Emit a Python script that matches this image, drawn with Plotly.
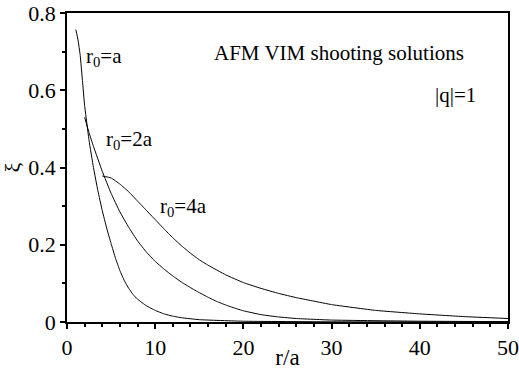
import plotly.graph_objects as go

# r0 = a
x_a = [1.0, 1.25, 1.5, 1.75, 2.0, 2.5, 3.0, 3.5, 4.0, 4.5, 5.0, 5.5, 6.0, 6.5, 7.0, 7.5, 8.0, 9.0, 10.0, 11.0, 12.0, 13.0, 15.0, 20.0, 30.0, 50.0]
y_a = [0.757, 0.73, 0.69, 0.625, 0.56, 0.47, 0.40, 0.34, 0.288, 0.243, 0.203, 0.165, 0.133, 0.107, 0.087, 0.071, 0.059, 0.042, 0.03, 0.021, 0.015, 0.011, 0.006, 0.002, 0.0005, 0.0001]
# r0 = 2a
x_b = [2.0, 2.5, 3.0, 4.0, 5.0, 6.0, 7.0, 8.0, 9.0, 10.0, 11.0, 12.0, 13.0, 14.0, 15.0, 16.0, 17.0, 18.0, 19.0, 20.0, 22.0, 24.0, 26.0, 30.0, 40.0, 50.0]
y_b = [0.53, 0.49, 0.455, 0.39, 0.333, 0.285, 0.245, 0.21, 0.181, 0.157, 0.137, 0.119, 0.103, 0.089, 0.076, 0.064, 0.053, 0.044, 0.036, 0.029, 0.019, 0.013, 0.009, 0.005, 0.002, 0.001]
# r0 = 4a
x_c = [4.0, 5.0, 6.0, 7.0, 8.0, 9.0, 10.0, 11.0, 12.0, 13.0, 14.0, 15.0, 16.0, 18.0, 20.0, 22.0, 24.0, 26.0, 28.0, 30.0, 35.0, 40.0, 45.0, 50.0]
y_c = [0.378, 0.373, 0.357, 0.337, 0.313, 0.289, 0.265, 0.241, 0.218, 0.197, 0.178, 0.161, 0.147, 0.122, 0.102, 0.087, 0.074, 0.063, 0.054, 0.045, 0.030, 0.021, 0.014, 0.009]

FONT = "Liberation Serif"

fig = go.Figure()
for xs, ys in [(x_a, y_a), (x_b, y_b), (x_c, y_c)]:
    fig.add_trace(go.Scatter(x=xs, y=ys, mode="lines",
                             line=dict(color="black", width=1, shape="spline", smoothing=0.3),
                             showlegend=False, hoverinfo="skip"))

ann = [
    (1.9, 0.687, "r<sub>0</sub>=a"),
    (4.2, 0.471, "r<sub>0</sub>=2a"),
    (10.3, 0.298, "r<sub>0</sub>=4a"),
]
for x, y, t in ann:
    fig.add_annotation(x=x, y=y, text=t, showarrow=False, xanchor="left", yanchor="middle",
                       font=dict(family=FONT, size=21, color="black"))
fig.add_annotation(x=16.4, y=0.697, text="AFM VIM shooting solutions", showarrow=False,
                   xanchor="left", yanchor="middle", font=dict(family=FONT, size=21, color="black"))
fig.add_annotation(x=44, y=0.588, text="|q|=1", showarrow=False,
                   xanchor="center", yanchor="middle", font=dict(family=FONT, size=21, color="black"))

axis_common = dict(showgrid=False, zeroline=False, showline=True, linecolor="black", linewidth=1.5,
                   mirror=True, ticks="outside", ticklen=5, tickwidth=2, tickcolor="#000",
                   automargin=False, tickfont=dict(family=FONT, size=22, color="black"))
fig.update_xaxes(range=[0, 50], tickmode="linear", dtick=10, tick0=0,
                 minor=dict(dtick=2, ticks="outside", ticklen=3, tickcolor="#000", tickwidth=1.5),
                 title=dict(text="r/a", font=dict(family=FONT, size=23, color="black"), standoff=0),
                 **axis_common)
fig.update_yaxes(range=[0, 0.8], tickmode="linear", dtick=0.2, tick0=0,
                 minor=dict(dtick=0.1, ticks="outside", ticklen=3, tickcolor="#000", tickwidth=1.5),
                 title=dict(text="ξ", font=dict(family=FONT, size=22, color="black"), standoff=4),
                 **axis_common)
fig.update_layout(width=519, height=370, margin=dict(l=67, r=11, t=13, b=48),
                  plot_bgcolor="white", paper_bgcolor="white")
fig.write_html("out.html")
